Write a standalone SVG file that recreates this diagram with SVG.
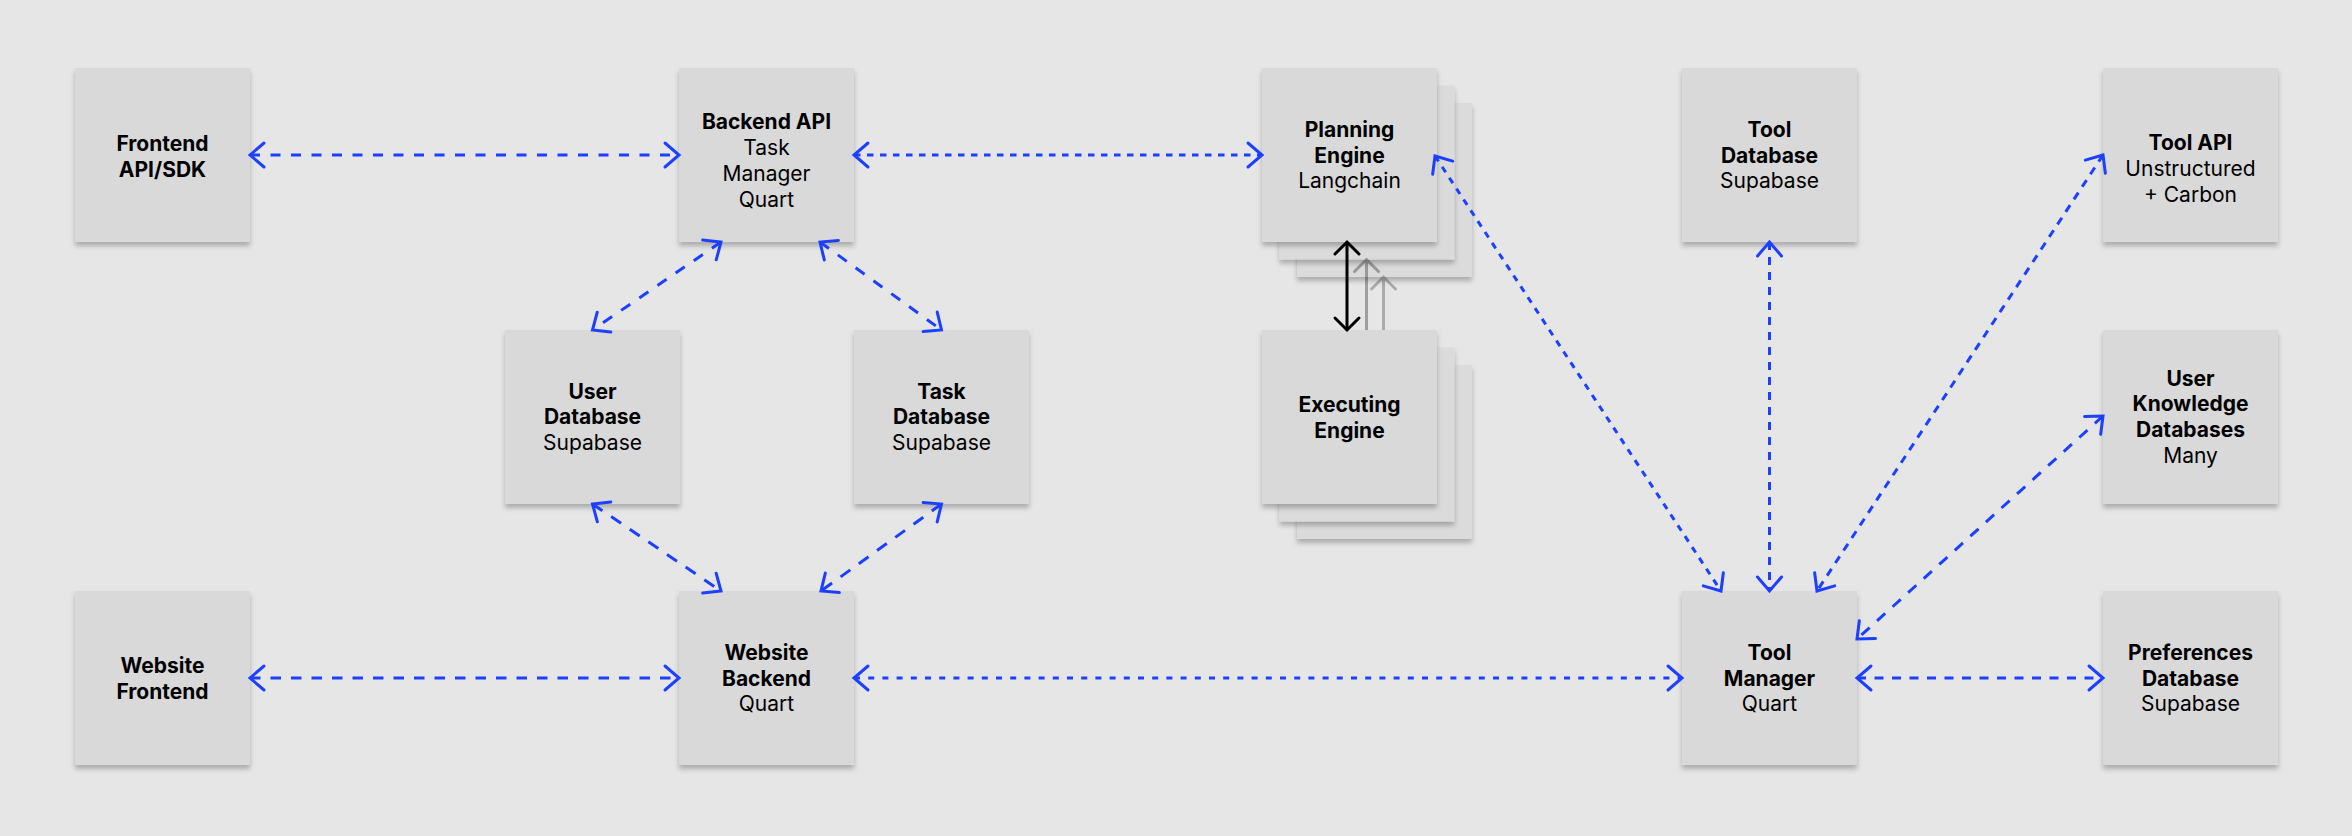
<svg xmlns="http://www.w3.org/2000/svg" width="2352" height="836" viewBox="0 0 2352 836">
<style>
.bx{fill:#d9d9d9;filter:url(#sh)}
.cp{fill:#dbdbdb;filter:url(#sh)}
text{font-family:Inter,"Noto Sans","Liberation Sans",sans-serif;font-size:21px;fill:#000;text-anchor:middle}
.b{font-weight:700}
.c{fill:none;stroke:#1d3fff;stroke-width:3;marker-start:url(#ab);marker-end:url(#ab)}
.k{fill:none;stroke:#000;stroke-width:3;marker-start:url(#ak);marker-end:url(#ak)}
</style>
<defs>
<filter id="sh" x="-10%" y="-10%" width="120%" height="125%">
<feDropShadow dx="0" dy="4" stdDeviation="2.5" flood-color="#000" flood-opacity="0.25"/>
</filter>
<marker id="ab" markerUnits="userSpaceOnUse" viewBox="-20 -20 40 40" markerWidth="40" markerHeight="40" refX="0" refY="0" orient="auto-start-reverse">
<path d="M-14,-12 L0,0 L-14,12" fill="none" stroke="#1d3fff" stroke-width="3" stroke-linecap="round"/>
</marker>
<marker id="ak" markerUnits="userSpaceOnUse" viewBox="-20 -20 40 40" markerWidth="40" markerHeight="40" refX="0" refY="0" orient="auto-start-reverse">
<path d="M-12,-12 L0,0 L-12,12" fill="none" stroke="#000" stroke-width="3" stroke-linecap="round"/>
</marker>
</defs>
<rect width="2352" height="836" fill="#e6e6e6"/>

<g id="frontend-api">
<rect class="bx" x="75" y="68" width="175" height="174"/>
<text x="162.5" y="151" class="b">Frontend</text>
<text x="162.5" y="177" class="b">API/SDK</text>
</g>
<g id="backend-api">
<rect class="bx" x="679" y="68" width="175" height="174"/>
<text x="766.5" y="129" class="b">Backend API</text>
<text x="766.5" y="155">Task</text>
<text x="766.5" y="181">Manager</text>
<text x="766.5" y="206.7">Quart</text>
</g>
<g id="user-db">
<rect class="bx" x="505" y="330" width="175" height="174"/>
<text x="592.5" y="398.5" class="b">User</text>
<text x="592.5" y="424.3" class="b">Database</text>
<text x="592.5" y="450.1">Supabase</text>
</g>
<g id="task-db">
<rect class="bx" x="854" y="330" width="175" height="174"/>
<text x="941.5" y="398.5" class="b">Task</text>
<text x="941.5" y="424.3" class="b">Database</text>
<text x="941.5" y="450.1">Supabase</text>
</g>
<g id="website-frontend">
<rect class="bx" x="75" y="591" width="175" height="174"/>
<text x="162.5" y="673" class="b">Website</text>
<text x="162.5" y="699" class="b">Frontend</text>
</g>
<g id="website-backend">
<rect class="bx" x="679" y="591" width="175" height="174"/>
<text x="766.5" y="659.5" class="b">Website</text>
<text x="766.5" y="685.5" class="b">Backend</text>
<text x="766.5" y="711.3">Quart</text>
</g>

<g id="engine-stack">
<g id="stack-layer-2">
<rect class="cp" x="1297" y="103" width="175" height="174"/>
<rect class="cp" x="1297" y="365" width="175" height="174"/>
<line x1="1383.5" y1="277" x2="1383.5" y2="365" class="k" opacity="0.25"/>
</g>
<g id="stack-layer-1">
<rect class="cp" x="1279.5" y="85.5" width="175" height="174"/>
<rect class="cp" x="1279.5" y="347.5" width="175" height="174"/>
<line x1="1366.5" y1="259.5" x2="1366.5" y2="347.5" class="k" opacity="0.3"/>
</g>
<g id="planning-engine">
<rect class="bx" x="1262" y="68" width="175" height="174"/>
<text x="1349.5" y="136.7" class="b">Planning</text>
<text x="1349.5" y="162.5" class="b">Engine</text>
<text x="1349.5" y="188.3">Langchain</text>
</g>
<g id="executing-engine">
<rect class="bx" x="1262" y="330" width="175" height="174"/>
<text x="1349.5" y="412.3" class="b">Executing</text>
<text x="1349.5" y="438" class="b">Engine</text>
</g>
</g>

<g id="tool-db">
<rect class="bx" x="1682" y="68" width="175" height="174"/>
<text x="1769.5" y="136.7" class="b">Tool</text>
<text x="1769.5" y="162.5" class="b">Database</text>
<text x="1769.5" y="188.3">Supabase</text>
</g>
<g id="tool-manager">
<rect class="bx" x="1682" y="591" width="175" height="174"/>
<text x="1769.5" y="659.5" class="b">Tool</text>
<text x="1769.5" y="685.5" class="b">Manager</text>
<text x="1769.5" y="711.3">Quart</text>
</g>
<g id="tool-api">
<rect class="bx" x="2103" y="68" width="175" height="174"/>
<text x="2190.5" y="150" class="b">Tool API</text>
<text x="2190.5" y="176">Unstructured</text>
<text x="2190.5" y="202">+ Carbon</text>
</g>
<g id="user-knowledge">
<rect class="bx" x="2103" y="330" width="175" height="174"/>
<text x="2190.5" y="385.5" class="b">User</text>
<text x="2190.5" y="411.3" class="b">Knowledge</text>
<text x="2190.5" y="437.1" class="b">Databases</text>
<text x="2190.5" y="463">Many</text>
</g>
<g id="preferences-db">
<rect class="bx" x="2103" y="591" width="175" height="174"/>
<text x="2190.5" y="659.5" class="b">Preferences</text>
<text x="2190.5" y="685.5" class="b">Database</text>
<text x="2190.5" y="711.3">Supabase</text>
</g>

<g id="connectors">
<line class="c" x1="250" y1="155" x2="679" y2="155" stroke-dasharray="10 10.5"/>
<line class="c" x1="854" y1="155" x2="1262" y2="155" stroke-dasharray="6.5 6.5"/>
<line class="c" x1="721" y1="242" x2="592.5" y2="330" stroke-dasharray="11 11"/>
<line class="c" x1="820" y1="242" x2="941.5" y2="330" stroke-dasharray="11 11"/>
<line class="c" x1="592.5" y1="504" x2="721" y2="591" stroke-dasharray="12 10.5"/>
<line class="c" x1="941.5" y1="504" x2="821" y2="591" stroke-dasharray="12 10.5"/>
<line class="c" x1="250" y1="678" x2="679" y2="678" stroke-dasharray="10.5 10"/>
<line class="c" x1="854" y1="678" x2="1682" y2="678" stroke-dasharray="6 8.2"/>
<line class="c" x1="1435" y1="156" x2="1721" y2="591" stroke-dasharray="6.5 6.5"/>
<line class="c" x1="1769.5" y1="242" x2="1769.5" y2="591" stroke-dasharray="8 7"/>
<line class="c" x1="2103" y1="155" x2="1817" y2="591" stroke-dasharray="8 7"/>
<line class="c" x1="2103" y1="416" x2="1857" y2="639" stroke-dasharray="11 10"/>
<line class="c" x1="1857" y1="678" x2="2103" y2="678" stroke-dasharray="9 8.5"/>
<line class="k" x1="1347" y1="242" x2="1347" y2="330"/>
</g>
</svg>
